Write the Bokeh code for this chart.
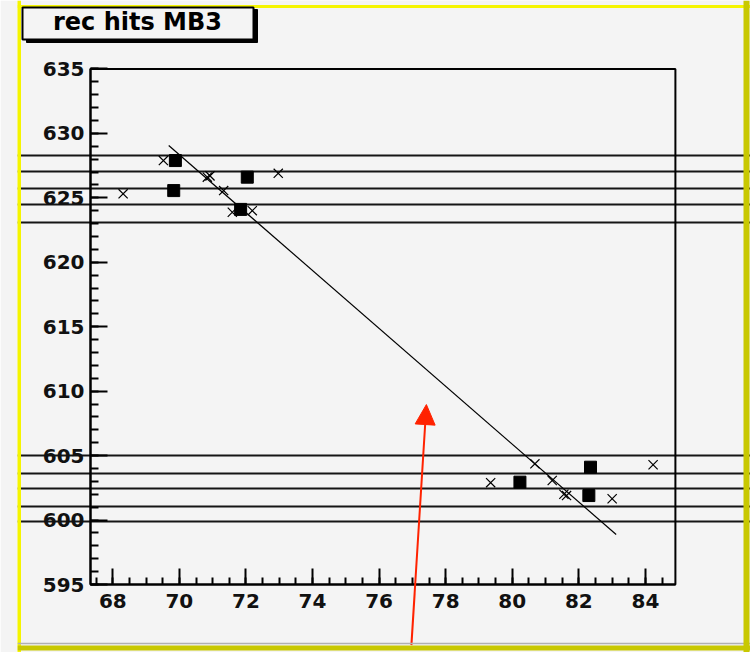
from bokeh.plotting import figure
from bokeh.models import (Range1d, LinearAxis, SingleIntervalTicker, BoxAnnotation,
                          Span, Label, Arrow, NormalHead)
from bokeh.embed import file_html
from bokeh.resources import INLINE

# ---------------- data ----------------
# chamber layer positions (horizontal lines)
layer_y_upper = [628.3, 627.05, 625.7, 624.45, 623.1]
layer_y_lower = [605.0, 603.6, 602.45, 601.05, 599.85]

# rec hits (filled squares)
sq_x = [69.88, 69.83, 72.04, 71.84, 80.23, 82.30, 82.35]
sq_y = [627.89, 625.56, 626.6, 624.1, 602.94, 601.9, 604.1]

# other hits (crosses)
cr_x = [68.31, 69.52, 70.84, 70.92, 71.33, 71.59, 72.19, 72.97,
        79.35, 80.68, 81.2, 81.63, 81.55, 83.0, 84.23]
cr_y = [625.31, 627.89, 626.6, 626.7, 625.56, 623.88, 624.0, 626.9,
        602.9, 604.36, 603.07, 601.9, 602.0, 601.65, 604.29]

# fitted segment
fit_x = [69.68, 83.12]
fit_y = [629.06, 598.88]

# arrow (annotation)
arrow_tail = (76.97, 590.3)
arrow_tip = (77.42, 608.96)

title_text = "rec hits MB3"

# axis extents
x_axis_lo, x_axis_hi = 67.33, 84.9
y_axis_lo, y_axis_hi = 595, 635

# ---------------- geometry ----------------
W, H = 750, 652
FL = 17                 # page position of frame left
SX, SY = 33.29, 12.89   # pixels per unit
X_START = 68 - (112.3 - FL) / SX
X_END = X_START + (W - FL) / SX
Y_TOP = 595 + 584 / SY
Y_BOTTOM = Y_TOP - H / SY


def dx(px):
    return X_START + (px - FL) / SX


def dy(py):
    return Y_TOP - py / SY


BG = "#f4f4f4"

p = figure(width=W, height=H, output_backend="svg", toolbar_location=None,
           x_range=Range1d(X_START, X_END), y_range=Range1d(Y_BOTTOM, Y_TOP),
           x_axis_location=None, y_axis_location=None, title=None,
           min_border_left=FL, min_border_right=0,
           min_border_top=0, min_border_bottom=0)
p.background_fill_color = BG
p.border_fill_color = BG
p.outline_line_color = None
p.grid.visible = False

# layer lines across the whole pad
p.hspan(y=layer_y_upper + layer_y_lower, line_color="#151515", line_width=2)

# fit line
p.line(fit_x, fit_y, line_color="black", line_width=1.2)

# markers
p.scatter(cr_x, cr_y, marker="x", size=13, line_color="black", line_width=1.2)
p.scatter(sq_x, sq_y, marker="square", size=12, fill_color="black", line_color="black")

# axes
font = "DejaVu Sans"
xaxis = LinearAxis(fixed_location=y_axis_lo, bounds=(x_axis_lo, x_axis_hi),
                   ticker=SingleIntervalTicker(interval=2, num_minor_ticks=4))
yaxis = LinearAxis(fixed_location=x_axis_lo, bounds=(y_axis_lo, y_axis_hi),
                   ticker=SingleIntervalTicker(interval=5, num_minor_ticks=5))
for ax, tin, min_in, stand in ((xaxis, 16, 7, 9), (yaxis, 17, 8, 6)):
    ax.axis_line_color = "black"
    ax.axis_line_width = 2
    ax.major_tick_in = tin
    ax.major_tick_out = 0
    ax.minor_tick_in = min_in
    ax.minor_tick_out = 0
    ax.major_tick_line_width = 2
    ax.minor_tick_line_width = 2
    ax.major_tick_line_color = "black"
    ax.minor_tick_line_color = "black"
    ax.major_label_text_font = font
    ax.major_label_text_font_style = "bold"
    ax.major_label_text_font_size = "20px"
    ax.major_label_text_color = "#111111"
    ax.major_label_standoff = stand
p.add_layout(xaxis, "below")
p.add_layout(yaxis, "left")

# frame box (top / right sides)
p.add_layout(BoxAnnotation(left=x_axis_lo, right=x_axis_hi, bottom=y_axis_lo, top=y_axis_hi,
                           fill_alpha=0, line_color="black", line_alpha=1, line_width=2))

# arrow
p.add_layout(Arrow(end=NormalHead(size=20, fill_color="#ff2200", line_color="#ff2200"),
                   x_start=arrow_tail[0], y_start=arrow_tail[1],
                   x_end=arrow_tip[0], y_end=arrow_tip[1],
                   line_color="#ff2200", line_width=2))

# pad border (yellow bevel)
p.add_layout(Span(location=dx(18.5), dimension="height", line_color="#f5f500", line_width=4))
p.add_layout(Span(location=dy(6), dimension="width", line_color="#f5f500", line_width=3))
p.add_layout(Span(location=dy(643), dimension="width", line_color="#b0b0b0", line_width=1.5))
p.add_layout(Span(location=dx(746), dimension="height", line_color="#c8c800", line_width=6))
p.add_layout(Span(location=dy(647.5), dimension="width", line_color="#c8c800", line_width=5))

# title box with shadow
p.add_layout(BoxAnnotation(left=dx(26), right=dx(257), top=dy(9), bottom=dy(42),
                           fill_color="black", fill_alpha=1, line_color="black", line_alpha=1))
p.add_layout(BoxAnnotation(left=dx(22), right=dx(253), top=dy(7), bottom=dy(39),
                           fill_color=BG, fill_alpha=1, line_color="black", line_alpha=1,
                           line_width=2))
p.add_layout(Label(x=dx(137), y=dy(21), text=title_text, text_align="center",
                   text_baseline="middle", text_font=font, text_font_style="bold",
                   text_font_size="24px", text_color="black"))

open("out.html", "w").write(file_html(p, INLINE))
